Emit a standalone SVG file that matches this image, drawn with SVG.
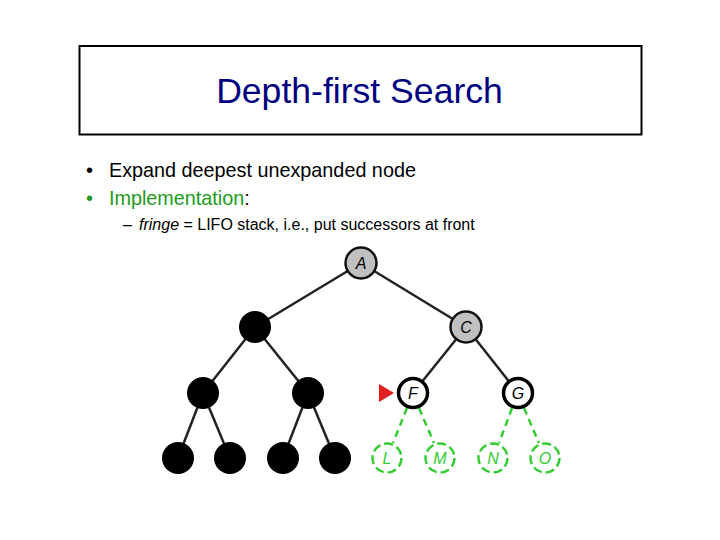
<svg xmlns="http://www.w3.org/2000/svg" width="720" height="540" viewBox="0 0 720 540">
<style>
.t{font-family:"Liberation Sans",Arial,sans-serif}
.e{stroke:#222;stroke-width:2.5;fill:none}
.g{stroke:#33cc33;stroke-width:2.5;stroke-dasharray:7 5;fill:none}
.blk{fill:#000}
.gry{fill:#c0c0c0;stroke:#111;stroke-width:2.5}
.wht{fill:#fff;stroke:#000;stroke-width:3.5}
.gc{fill:#fff;stroke:#33cc33;stroke-width:2.5;stroke-dasharray:9 4}
.lb{font-family:"Liberation Sans",Arial,sans-serif;font-size:16px;font-style:italic;text-anchor:middle}
</style>
<rect width="720" height="540" fill="#fff"/>
<g id="title">
<rect x="79.5" y="46" width="562" height="88.5" fill="#fff" stroke="#000" stroke-width="2"/>
<text class="t" x="359.5" y="102.5" font-size="35.6" fill="#000080" text-anchor="middle">Depth-first Search</text>
</g>
<g id="bullets" class="t">
<text x="86" y="176.5" font-size="20">•</text>
<text x="109" y="176.5" font-size="19.8" fill="#000">Expand deepest unexpanded node</text>
<text x="86" y="204.5" font-size="20" fill="#1e9a1e">•</text>
<text x="109" y="204.5" font-size="19.8"><tspan fill="#1e9a1e">Implementation</tspan><tspan fill="#000">:</tspan></text>
<text x="123" y="229.5" font-size="16">–</text>
<text x="139" y="229.5" font-size="16"><tspan font-style="italic">fringe</tspan> = LIFO stack, i.e., put successors at front</text>
</g>
<g id="connectors">
<line class="e" x1="361" y1="263" x2="255" y2="327"/>
<line class="e" x1="361" y1="263" x2="466" y2="327"/>
<line class="e" x1="255" y1="327" x2="203" y2="393"/>
<line class="e" x1="255" y1="327" x2="308" y2="393"/>
<line class="e" x1="466" y1="327" x2="413" y2="393"/>
<line class="e" x1="466" y1="327" x2="518" y2="393"/>
<line class="e" x1="203" y1="393" x2="178" y2="458"/>
<line class="e" x1="203" y1="393" x2="230" y2="458"/>
<line class="e" x1="308" y1="393" x2="283" y2="458"/>
<line class="e" x1="308" y1="393" x2="335" y2="458"/>
<line class="g" x1="407" y1="408" x2="393" y2="443"/>
<line class="g" x1="419" y1="408" x2="434" y2="443"/>
<line class="g" x1="512" y1="408" x2="499" y2="443"/>
<line class="g" x1="524" y1="408" x2="539" y2="443"/>
</g>
<g id="A"><circle class="gry" cx="361" cy="263" r="15.5"/><text class="lb" x="361" y="268.5">A</text></g>
<g id="B"><circle class="blk" cx="255" cy="327" r="16"/></g>
<g id="C"><circle class="gry" cx="466" cy="327" r="15.5"/><text class="lb" x="466" y="332.5">C</text></g>
<g id="D"><circle class="blk" cx="203" cy="393" r="16"/></g>
<g id="E"><circle class="blk" cx="308" cy="393" r="16"/></g>
<g id="F"><circle class="wht" cx="413" cy="393" r="14.5"/><text class="lb" x="413" y="398.5">F</text></g>
<g id="G"><circle class="wht" cx="518" cy="393" r="14.5"/><text class="lb" x="518" y="398.5">G</text></g>
<g id="H"><circle class="blk" cx="178" cy="458" r="16"/></g>
<g id="I"><circle class="blk" cx="230" cy="458" r="16"/></g>
<g id="J"><circle class="blk" cx="283" cy="458" r="16"/></g>
<g id="K"><circle class="blk" cx="335" cy="458" r="16"/></g>
<g id="L"><circle class="gc" cx="387" cy="458" r="14.5"/><text class="lb" x="387" y="463.5" fill="#33cc33">L</text></g>
<g id="M"><circle class="gc" cx="440" cy="458" r="14.5"/><text class="lb" x="440" y="463.5" fill="#33cc33">M</text></g>
<g id="N"><circle class="gc" cx="493" cy="458" r="14.5"/><text class="lb" x="493" y="463.5" fill="#33cc33">N</text></g>
<g id="O"><circle class="gc" cx="545" cy="458" r="14.5"/><text class="lb" x="545" y="463.5" fill="#33cc33">O</text></g>
<g id="pointer"><polygon points="379,384 379,402 394,393" fill="#e02020"/></g>
</svg>
